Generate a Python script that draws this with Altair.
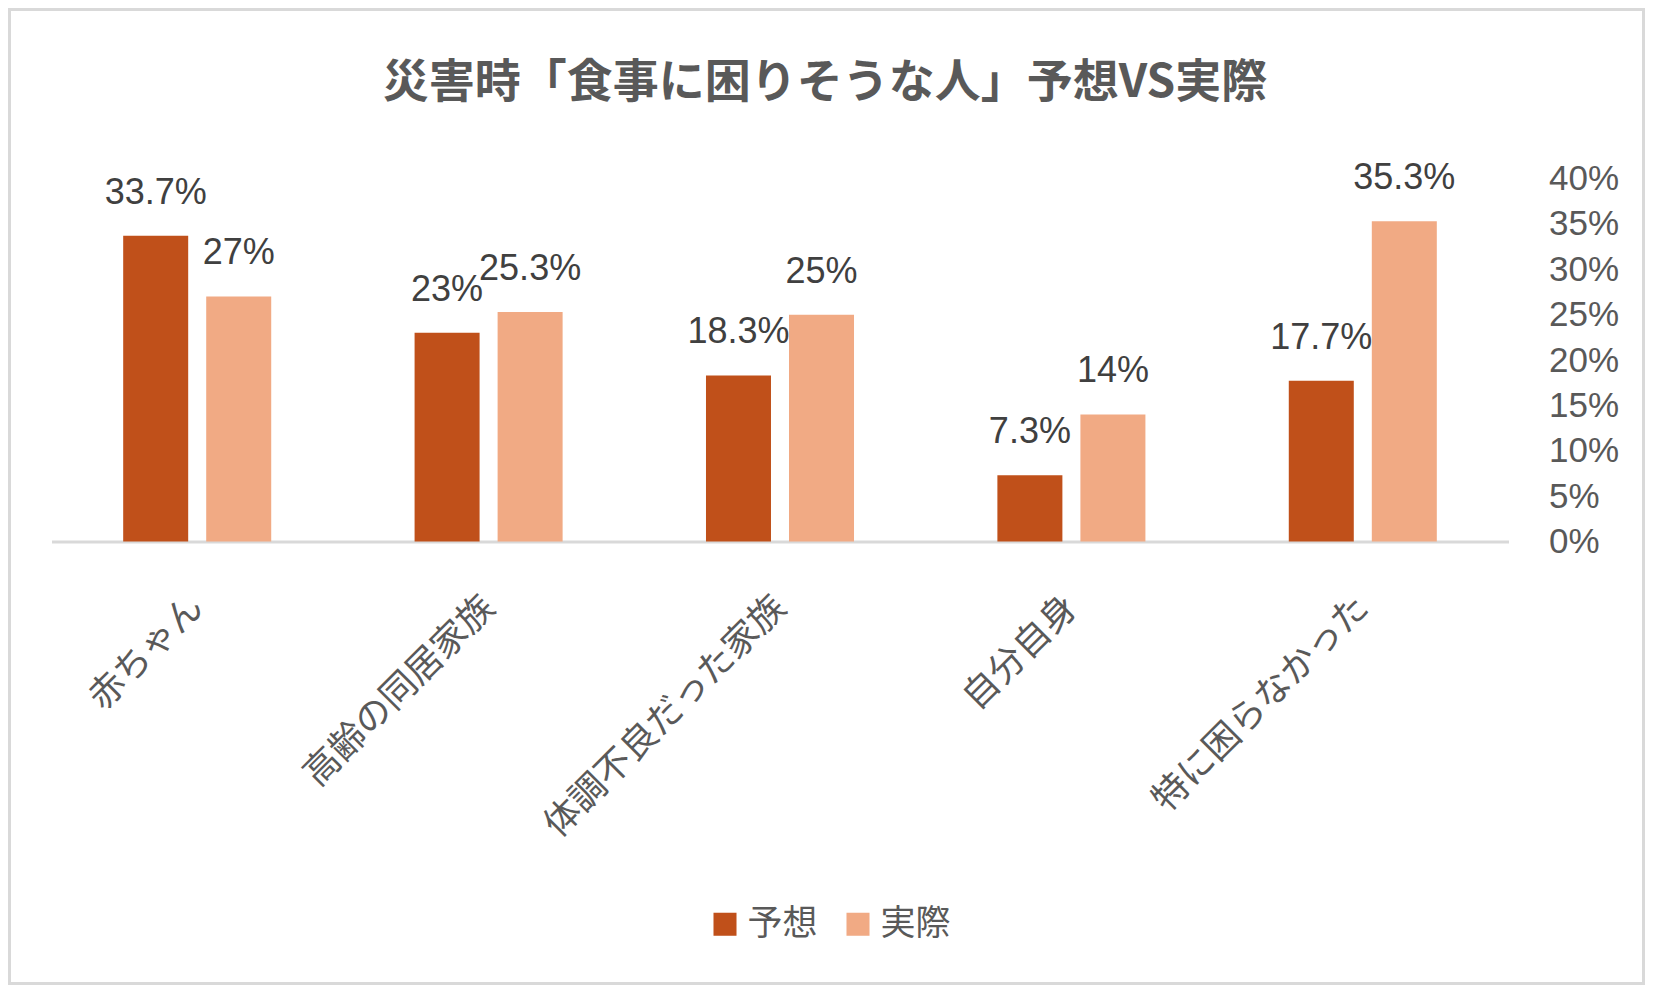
import altair as alt
import pandas as pd

# values (percent)
categories = ["赤ちゃん", "高齢の同居家族", "体調不良だった家族", "自分自身", "特に困らなかった"]
expected = [33.7, 23, 18.3, 7.3, 17.7]
actual = [27, 25.3, 25, 14, 35.3]
series = ["予想", "実際"]
colors = ["#C0501A", "#F1AA84"]

rows = []
for c, e, a in zip(categories, expected, actual):
    rows.append({"item": c, "series": "予想", "value": e})
    rows.append({"item": c, "series": "実際", "value": a})
df = pd.DataFrame(rows)

JP = "Noto Sans CJK JP"
NUM = "Liberation Sans"
GREY = "#595959"

W, H = 1457, 363

x = alt.X("item:N", sort=categories, title=None,
          scale=alt.Scale(paddingInner=0.492, paddingOuter=0.246),
          axis=alt.Axis(labelAngle=-45, labelAlign="right", labelBaseline="middle",
                        labelFont=JP, labelFontSize=36, labelColor=GREY,
                        labelPadding=60, ticks=False, domainColor="#D9D9D9",
                        domainWidth=3, labelLimit=400))
xo = alt.XOffset("series:N", sort=series,
                 scale=alt.Scale(paddingInner=0.217, paddingOuter=0))
y = alt.Y("value:Q", title=None,
          scale=alt.Scale(domain=[0, 40], nice=False),
          axis=alt.Axis(orient="right", values=[0, 5, 10, 15, 20, 25, 30, 35, 40],
                        labelExpr="datum.value + '%'", domain=False, ticks=False,
                        grid=False, labelFont=NUM, labelFontSize=35, labelColor=GREY,
                        labelPadding=40, labelAlign="left", labelBaseline="middle"))

bars = alt.Chart(df).mark_bar().encode(
    x=x, xOffset=xo, y=y,
    color=alt.Color("series:N", sort=series,
                    scale=alt.Scale(domain=series, range=colors),
                    legend=alt.Legend(title=None, orient="none", direction="horizontal",
                                      legendX=656, legendY=728, padding=0,
                                      symbolType="square", symbolSize=530,
                                      symbolStrokeWidth=0, labelFont=JP,
                                      labelFontSize=35, labelColor=GREY,
                                      labelOffset=5, columnPadding=22))
)

labels = alt.Chart(df).transform_calculate(
    txt="datum.value + '%'"
).mark_text(font=NUM, fontSize=36, color="#404040", dy=-32, baseline="alphabetic").encode(
    x=alt.X("item:N", sort=categories), xOffset=alt.XOffset("series:N", sort=series),
    y="value:Q", text="txt:N"
)

# light grey border round the whole chart
frame = alt.Chart(alt.Data(values=[{}])).mark_rect(
    fill="transparent", stroke="#D9D9D9", strokeWidth=3
).encode(
    x=alt.value(-42), x2=alt.value(W + 135),
    y=alt.value(-169), y2=alt.value(H + 442)
)

chart = alt.layer(bars, labels, frame).properties(
    width=W, height=H,
    title=alt.TitleParams("災害時「食事に困りそうな人」予想VS実際", font=JP, fontSize=46,
                          fontWeight="bold", color=GREY, anchor="middle", dx=45, offset=-99),
    padding={"left": 43.5, "top": 170.5, "right": 136.5, "bottom": 443.5},
    autosize=alt.AutoSizeParams(type="none"),
    background="white",
).configure_view(stroke="transparent")

chart.save("out.html", embed_options={"renderer": "svg", "actions": False})
